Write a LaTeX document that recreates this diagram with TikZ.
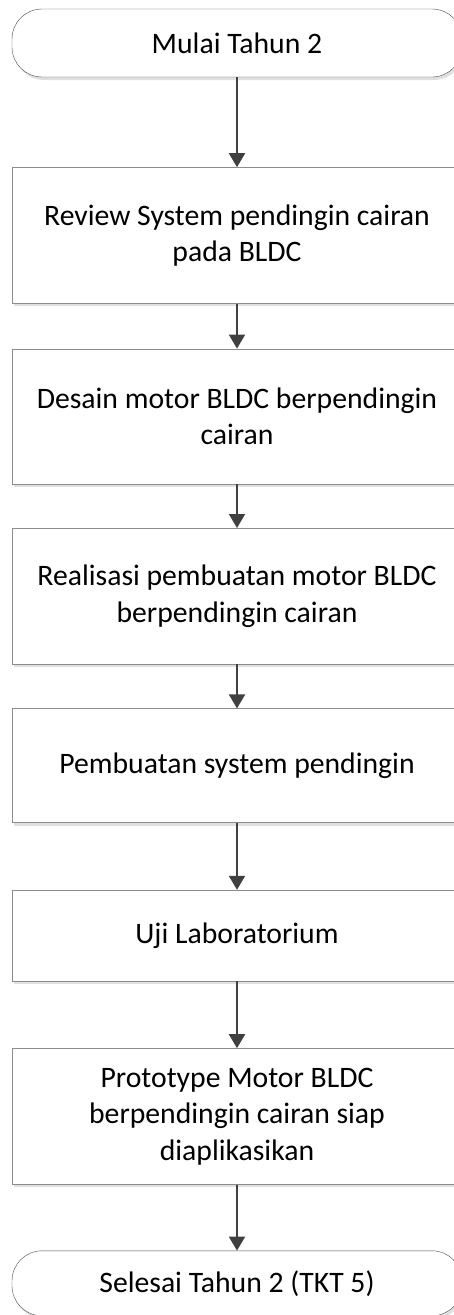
\documentclass[tikz,border=0pt]{standalone}
\usepackage{fontspec}
\setmainfont{Carlito}
\usetikzlibrary{positioning, arrows.meta, shadows}

\begin{document}
\begin{tikzpicture}[
  x=1pt, y=1pt,
  node distance=44pt,
  term/.style={rectangle, draw=black!70, fill=white, rounded corners=30pt, minimum width=450pt, minimum height=68pt, inner sep=0pt, align=center, font=\fontsize{29.7}{36.5}\selectfont, general shadow={fill=black!12, shadow xshift=2pt, shadow yshift=-3pt}},
  block/.style={rectangle, draw=black!45, fill=white, minimum width=450pt, inner sep=0pt, align=center, font=\fontsize{29.7}{36.5}\selectfont, general shadow={fill=black!12, shadow xshift=2pt, shadow yshift=-3pt}},
  arrow/.style={-{Triangle[width=16pt,length=14pt]}, line width=2pt, draw=black!75}
]
\useasboundingbox (0,0) rectangle (453,-1315);

% Start
\node[term] (start) at (237,-43) {Mulai Tahun 2};

% Steps
\node[block, minimum height=136pt, below=90pt of start] (review) {Review System pendingin cairan\\pada BLDC};
\node[block, minimum height=135pt, below=45pt of review] (desain) {Desain motor BLDC berpendingin\\cairan};
\node[block, minimum height=136pt, below=44pt of desain] (realisasi) {Realisasi pembuatan motor BLDC\\berpendingin cairan};
\node[block, minimum height=114pt, below=44pt of realisasi] (pendingin) {Pembuatan system pendingin};
\node[block, minimum height=91pt, below=67pt of pendingin] (uji) {Uji Laboratorium};
\node[block, minimum height=136pt, below=67pt of uji] (proto) {Prototype Motor BLDC\\berpendingin cairan siap\\diaplikasikan};

% End
\node[term, minimum height=65pt, below=66pt of proto] (selesai) {Selesai Tahun 2 (TKT 5)};

% Arrows
\draw[arrow] (start) -- (review);
\draw[arrow] (review) -- (desain);
\draw[arrow] (desain) -- (realisasi);
\draw[arrow] (realisasi) -- (pendingin);
\draw[arrow] (pendingin) -- (uji);
\draw[arrow] (uji) -- (proto);
\draw[arrow] (proto) -- (selesai);

\end{tikzpicture}
\end{document}
